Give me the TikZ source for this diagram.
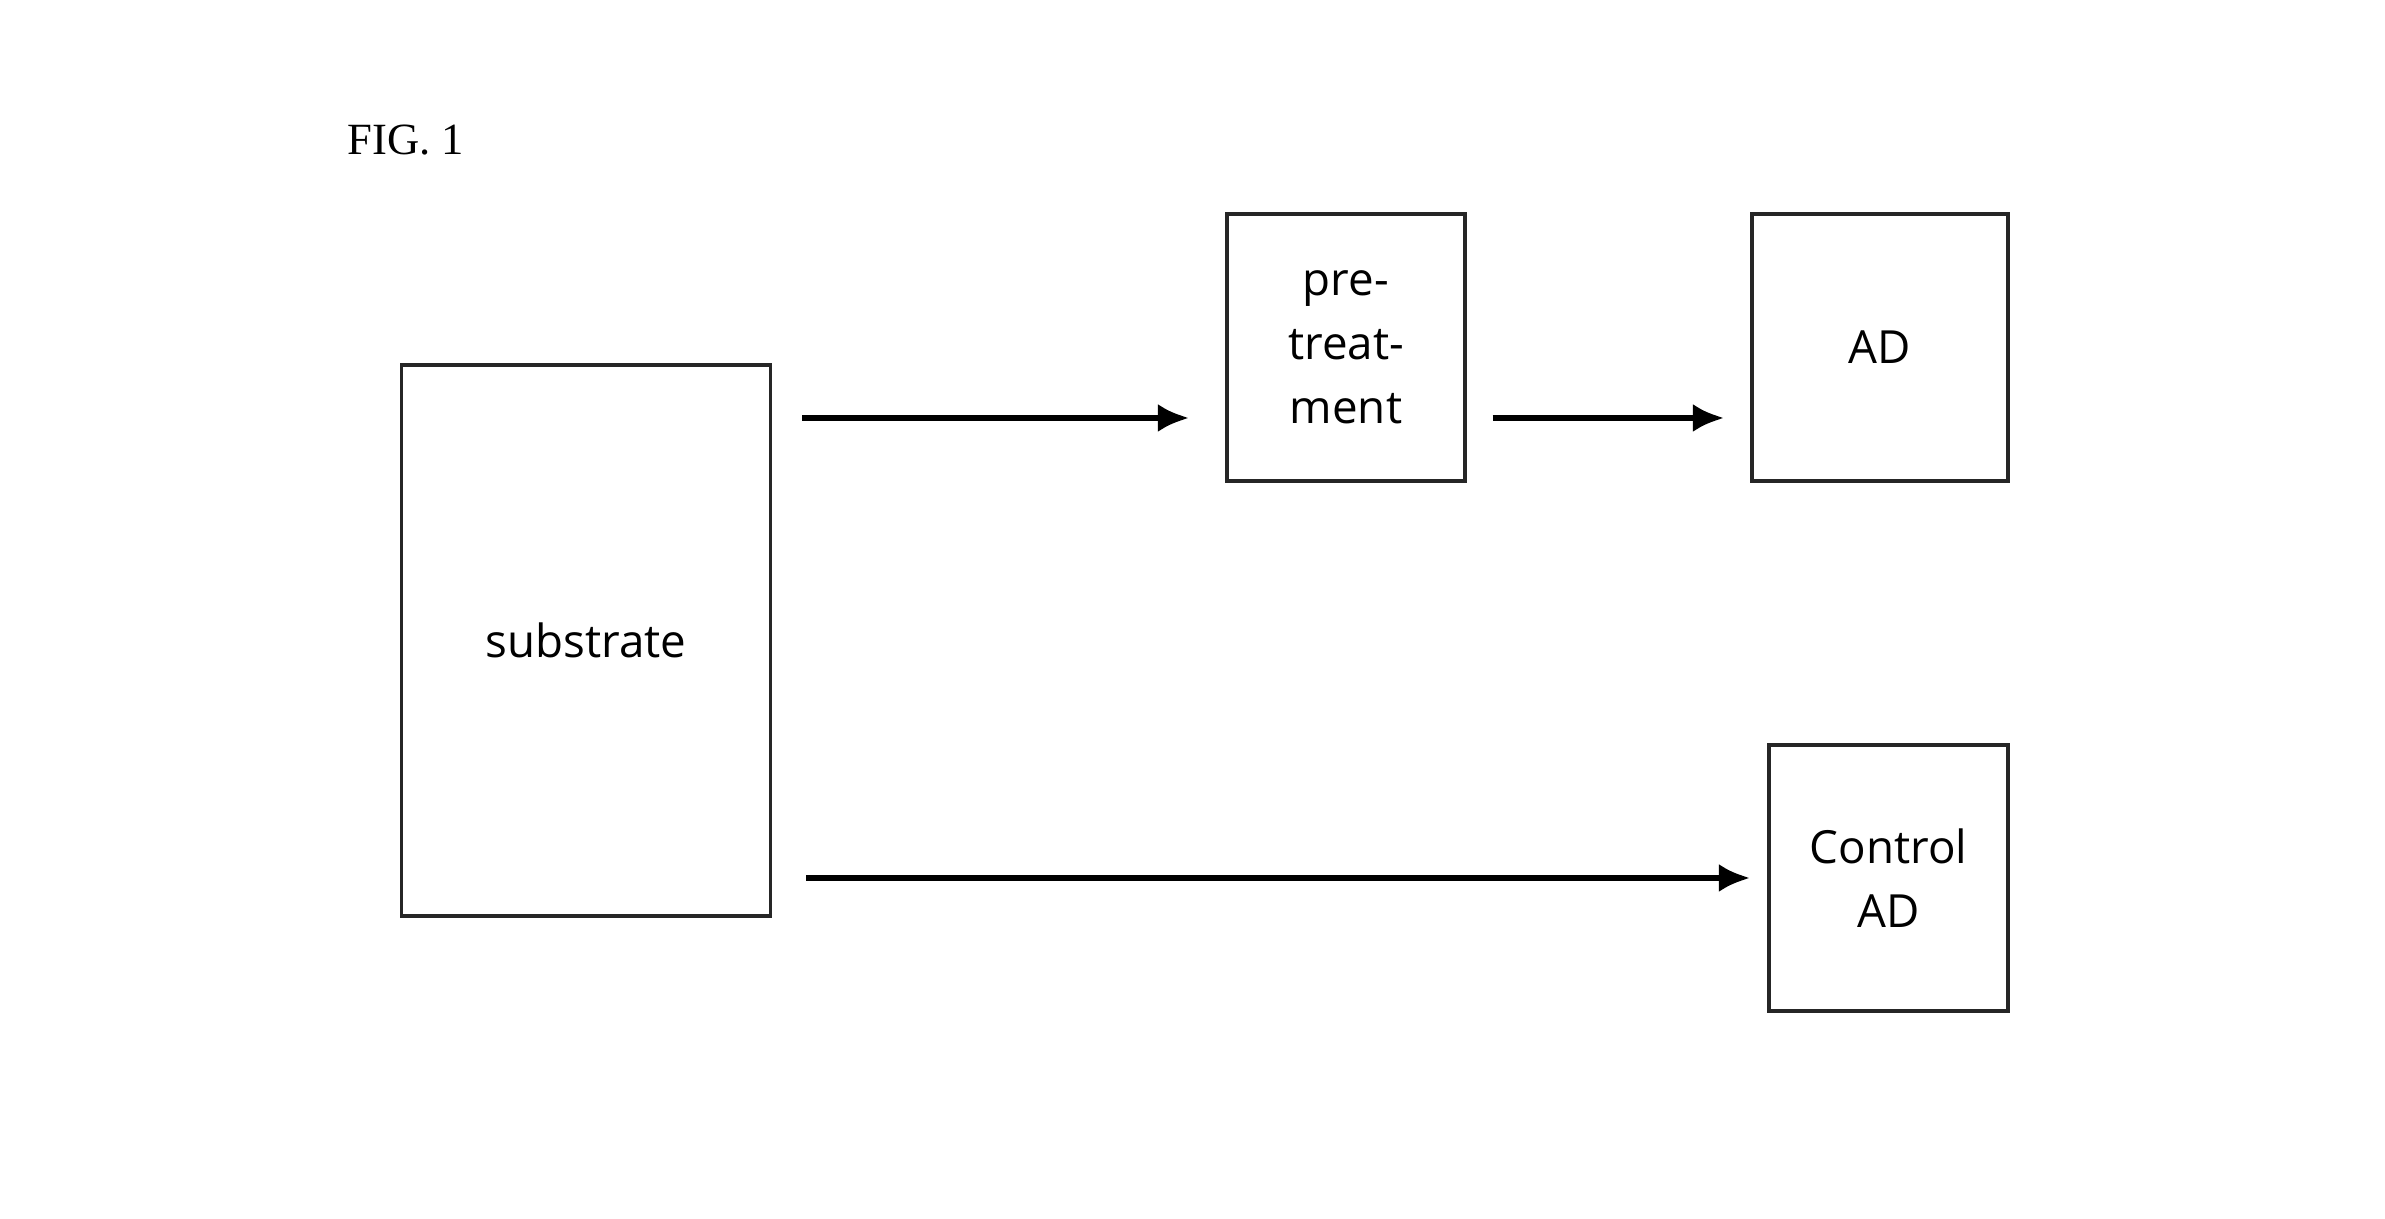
\documentclass[tikz,border=0pt]{standalone}
\usepackage{fontspec}
\setmainfont{Liberation Serif}
\newfontfamily\boxfont{Open Sans}
\usetikzlibrary{arrows.meta, positioning, calc}

\begin{document}
\begin{tikzpicture}[
        box/.style={draw=black!85, line width=0.9pt, align=center, inner sep=0pt,
            font=\boxfont\fontsize{13pt}{18.2pt}\selectfont},
        flow/.style={draw=black, line width=1.8pt, -{Latex[length=9pt,width=8pt]}}
    ]
        % page frame
        \useasboundingbox (0,0) rectangle (23.85,12.19);

        % Title
        \node[anchor=west, inner sep=0pt, font=\fontsize{12.7pt}{15pt}\selectfont] (fig) at (3.47,10.79) {FIG. 1};

        % Boxes
        \node[box, minimum width=3.695cm, minimum height=5.51cm] (sub) at (5.86,5.785) {substrate};
        \node[box, minimum width=2.38cm, minimum height=2.67cm] (pre) at (13.46,8.715) {pre-\\treat-\\ment};
        \node[box, minimum width=2.56cm, minimum height=2.67cm] (ad) at (18.80,8.715) {AD};
        \node[box, minimum width=2.39cm, minimum height=2.66cm] (ctrl) at (18.885,3.41) {Control\\AD};

        % Arrows
        \coordinate (row) at ([yshift=-0.705cm]pre.west);
        \draw[flow, shorten <=0.30cm, shorten >=0.36cm] (sub.east |- row) -- (row);
        \draw[flow, shorten <=0.26cm, shorten >=0.26cm] ([yshift=-0.705cm]pre.east) -- ([yshift=-0.705cm]ad.west);
        \draw[flow, shorten <=0.34cm, shorten >=0.17cm] (sub.east |- ctrl.west) -- (ctrl.west);
\end{tikzpicture}
\end{document}
